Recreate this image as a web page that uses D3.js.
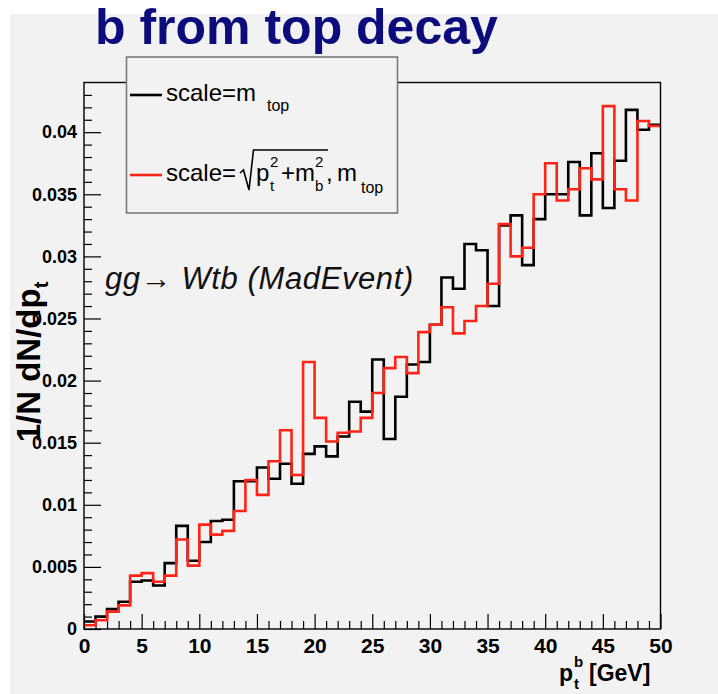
<!DOCTYPE html>
<html>
<head>
<meta charset="utf-8">
<script src="https://cdn.jsdelivr.net/npm/d3@7"></script>
<style>
  html, body { margin: 0; padding: 0; background: #ffffff; }
  svg { display: block; font-family: "Liberation Sans", Arial, Helvetica, sans-serif; }
</style>
</head>
<body>
<svg id="chart" width="718" height="694"></svg>
<script>
// b-quark transverse momentum, normalised, 1 GeV bins from 0 to 50 GeV
const binEdgesLow = d3.range(0, 50);   // lower edge of each bin [GeV]

// scale = m_top
const scaleMtop = [
  0.0006, 0.0010, 0.0016, 0.0022, 0.0038, 0.0039, 0.0035, 0.0053, 0.0083, 0.0055,
  0.0070, 0.0087, 0.0088, 0.0119, 0.0119, 0.0130, 0.0121, 0.0133, 0.0117, 0.0141,
  0.0147, 0.0139, 0.0155, 0.0183, 0.0175, 0.0217, 0.0153, 0.0187, 0.0213, 0.0215,
  0.0245, 0.0283, 0.0274, 0.0310, 0.0305, 0.0260, 0.0325, 0.0333, 0.0293, 0.0330,
  0.0350, 0.0350, 0.0376, 0.0333, 0.0383, 0.0339, 0.0377, 0.0418, 0.0402, 0.0406
];

// scale = sqrt(pt^2 + mb^2), m_top
const scaleSqrt = [
  0.0003, 0.0007, 0.0014, 0.0019, 0.0043, 0.0045, 0.0038, 0.0043, 0.0072, 0.0051,
  0.0084, 0.0076, 0.0079, 0.0095, 0.0120, 0.0108, 0.0135, 0.0160, 0.0124, 0.0215,
  0.0170, 0.0151, 0.0158, 0.0159, 0.0170, 0.0190, 0.0210, 0.0219, 0.0206, 0.0239,
  0.0245, 0.0259, 0.0238, 0.0248, 0.0260, 0.0278, 0.0326, 0.0300, 0.0307, 0.0350,
  0.0375, 0.0345, 0.0354, 0.0371, 0.0362, 0.0421, 0.0354, 0.0345, 0.0409, 0.0405
];

const xTickValues = [0, 5, 10, 15, 20, 25, 30, 35, 40, 45, 50];
const xTickLabels = ["0", "5", "10", "15", "20", "25", "30", "35", "40", "45", "50"];
const yTickValues = [0, 0.005, 0.01, 0.015, 0.02, 0.025, 0.03, 0.035, 0.04];
const yTickLabels = ["0", "0.005", "0.01", "0.015", "0.02", "0.025", "0.03", "0.035", "0.04"];

const svg = d3.select("#chart");

// pad background
svg.append("rect").attr("x", 10).attr("y", 14).attr("width", 708).attr("height", 680)
  .attr("fill", "#f2f2f2");

const frame = { left: 84, right: 660.5, top: 82.5, bottom: 629 };
const x = d3.scaleLinear().domain([0, 50]).range([frame.left, frame.right]);
const y = d3.scaleLinear().domain([0, 0.0440]).range([frame.bottom, frame.top]);

// title
svg.append("text")
  .attr("x", 95).attr("y", 44)
  .attr("font-size", 50).attr("font-weight", "bold")
  .attr("fill", "#0c0c7c")
  .text("b from top decay");

// minor and major ticks (drawn inside the frame)
const xMinor = d3.range(0, 51).filter(v => v % 5 !== 0);
svg.append("g").attr("transform", `translate(0,${frame.bottom})`)
  .call(d3.axisBottom(x).tickValues(xMinor).tickSizeInner(-8).tickSizeOuter(0).tickFormat(""))
  .call(g => g.select(".domain").remove())
  .call(g => g.selectAll("line").attr("stroke", "#000").attr("stroke-width", 1.2));

svg.append("g").attr("transform", `translate(0,${frame.bottom})`)
  .call(d3.axisBottom(x).tickValues(xTickValues).tickSizeInner(-15).tickSizeOuter(0)
    .tickPadding(10).tickFormat((d, i) => xTickLabels[i]))
  .call(g => g.select(".domain").remove())
  .call(g => g.selectAll("line").attr("stroke", "#000").attr("stroke-width", 1.2))
  .call(g => g.selectAll("text").attr("font-size", 21).attr("font-weight", "bold")
    .attr("font-family", "Liberation Sans, Arial, sans-serif").attr("fill", "#000")
    .attr("dy", "0.95em").attr("y", 4));

const yMinor = d3.range(0, 44).map(i => i * 0.001).filter((v, i) => i % 5 !== 0);
svg.append("g").attr("transform", `translate(${frame.left},0)`)
  .call(d3.axisLeft(y).tickValues(yMinor).tickSizeInner(-8).tickSizeOuter(0).tickFormat(""))
  .call(g => g.select(".domain").remove())
  .call(g => g.selectAll("line").attr("stroke", "#000").attr("stroke-width", 1.2));

svg.append("g").attr("transform", `translate(${frame.left},0)`)
  .call(d3.axisLeft(y).tickValues(yTickValues).tickSizeInner(-17).tickSizeOuter(0)
    .tickPadding(7).tickFormat((d, i) => yTickLabels[i]))
  .call(g => g.select(".domain").remove())
  .call(g => g.selectAll("line").attr("stroke", "#000").attr("stroke-width", 1.2))
  .call(g => g.selectAll("text").attr("font-size", 18).attr("font-weight", "bold")
    .attr("font-family", "Liberation Sans, Arial, sans-serif").attr("fill", "#000"));

// histograms as step lines
const stepLine = d3.line()
  .x(d => x(d[0]))
  .y(d => y(d[1]))
  .curve(d3.curveStepAfter);

function histPoints(values) {
  const pts = binEdgesLow.map((lo, i) => [lo, values[i]]);
  pts.push([50, values[values.length - 1]]);
  return pts;
}

svg.append("path").datum(histPoints(scaleMtop))
  .attr("d", stepLine).attr("fill", "none")
  .attr("stroke", "#000").attr("stroke-width", 2.6);

svg.append("path").datum(histPoints(scaleSqrt))
  .attr("d", stepLine).attr("fill", "none")
  .attr("stroke", "#ff2415").attr("stroke-width", 2.6);

// frame
svg.append("rect")
  .attr("x", frame.left).attr("y", frame.top)
  .attr("width", frame.right - frame.left).attr("height", frame.bottom - frame.top)
  .attr("fill", "none").attr("stroke", "#000").attr("stroke-width", 1.4);

// process label
svg.append("text")
  .attr("x", 105).attr("y", 289)
  .attr("font-size", 31).attr("font-style", "italic")
  .attr("letter-spacing", 0.6)
  .attr("fill", "#111")
  .text("gg\u2192 Wtb (MadEvent)");

// axis titles
const yTitle = svg.append("text")
  .attr("transform", "translate(40,362) rotate(-90)")
  .attr("text-anchor", "middle")
  .attr("font-size", 33).attr("font-weight", "bold").attr("fill", "#000");
yTitle.append("tspan").text("1/N dN/dp");
yTitle.append("tspan").attr("font-size", 20).attr("dy", 8).text("t");

const xt = svg.append("g").attr("font-weight", "bold").attr("fill", "#000");
xt.append("text").attr("x", 559).attr("y", 681).attr("font-size", 23).text("p");
xt.append("text").attr("x", 574).attr("y", 667).attr("font-size", 15).text("b");
xt.append("text").attr("x", 574).attr("y", 689).attr("font-size", 15).text("t");
xt.append("text").attr("x", 589).attr("y", 681).attr("font-size", 23).text("[GeV]");

// legend
const lg = svg.append("g");
lg.append("rect").attr("x", 126.5).attr("y", 57).attr("width", 271).attr("height", 156)
  .attr("fill", "#f2f2f2").attr("stroke", "#7a7a7a").attr("stroke-width", 1.6);

lg.append("line").attr("x1", 130).attr("x2", 162).attr("y1", 95).attr("y2", 95)
  .attr("stroke", "#000").attr("stroke-width", 2.6);
lg.append("text").attr("x", 166).attr("y", 101).attr("font-size", 24).attr("fill", "#000")
  .text("scale=m");
lg.append("text").attr("x", 267).attr("y", 111).attr("font-size", 16).attr("fill", "#000")
  .text("top");

lg.append("line").attr("x1", 130).attr("x2", 162).attr("y1", 175).attr("y2", 175)
  .attr("stroke", "#ff2415").attr("stroke-width", 2.6);
lg.append("text").attr("x", 166).attr("y", 181).attr("font-size", 24).attr("fill", "#000")
  .text("scale=");
lg.append("path")
  .attr("d", "M240,173 L243.5,170 L249,190 L253.5,150 L328,150")
  .attr("fill", "none").attr("stroke", "#000").attr("stroke-width", 1.6);
lg.append("text").attr("x", 256).attr("y", 181).attr("font-size", 24).attr("fill", "#000").text("p");
lg.append("text").attr("x", 270).attr("y", 167).attr("font-size", 15).attr("fill", "#000").text("2");
lg.append("text").attr("x", 270).attr("y", 191).attr("font-size", 15).attr("fill", "#000").text("t");
lg.append("text").attr("x", 281).attr("y", 181).attr("font-size", 24).attr("fill", "#000").text("+m");
lg.append("text").attr("x", 315).attr("y", 167).attr("font-size", 15).attr("fill", "#000").text("2");
lg.append("text").attr("x", 315).attr("y", 191).attr("font-size", 15).attr("fill", "#000").text("b");
lg.append("text").attr("x", 326).attr("y", 181).attr("font-size", 24).attr("fill", "#000").text(",");
lg.append("text").attr("x", 337).attr("y", 181).attr("font-size", 24).attr("fill", "#000").text("m");
lg.append("text").attr("x", 361).attr("y", 193).attr("font-size", 16).attr("fill", "#000").text("top");
</script>
</body>
</html>
